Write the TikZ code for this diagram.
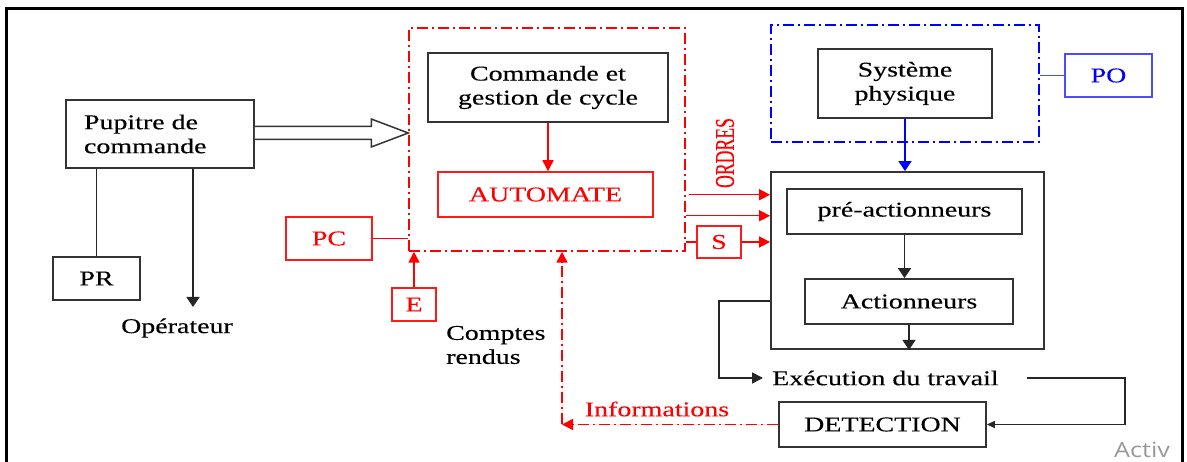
\documentclass[tikz,border=0pt]{standalone}
\usepackage{graphicx}
\usepackage{fontspec}
\setmainfont{Liberation Serif}[FakeStretch=1.33,FakeBold=0.3]
\newfontfamily\plainserif{Liberation Serif}[FakeBold=0.3]
\newfontfamily\wmsans{Open Sans}[FakeStretch=1.2]
\usetikzlibrary{arrows.meta,calc}
\begin{document}
\begin{tikzpicture}[x=1pt,y=-1pt,
  txt/.style={font=\fontsize{21}{24}\selectfont, inner sep=0pt},
  box/.style={txt, draw=black!80, line width=1.8pt, align=center},
  rbox/.style={box, draw=red!90, text=red, line width=1.5pt},
  bbox/.style={box, draw=blue!70, text=blue, line width=1.5pt},
  dashdotline/.style={dash pattern=on 11pt off 4pt on 2pt off 4pt},
  wire/.style={line width=1.6pt, draw=black!85},
  rwire/.style={line width=1.5pt, draw=red, fill=red},
  bigtip/.style={-{Triangle[length=10pt,width=13pt]}},
  midtip/.style={-{Triangle[length=11pt,width=11pt]}},
  smalltip/.style={-{Triangle[length=8pt,width=7pt]}},
]
\useasboundingbox (0,0) rectangle (1187,462);
\fill[white] (0,0) rectangle (1187,462);

% ---- operator desk ----
\node[box, minimum width=188, minimum height=68, text width=152, inner xsep=18pt, align=left] (pupitre) at (160,134) {Pupitre de\\commande};
\node[box, minimum width=87, minimum height=43] (pr) at (96.5,278.5) {PR};
\node[txt] (oper) at (177,328) {Opérateur};
\coordinate (operin) at (193,307);

% ---- control part ----
\node[draw=red, line width=1.5pt, dashdotline, minimum width=276, minimum height=223, inner sep=0pt] (pcbox) at (547,139.5) {};
\node[box, minimum width=240, minimum height=69] (cmd) at (548,87.5) {Commande et\\gestion de cycle};
\node[rbox, minimum width=215, minimum height=45] (auto) at (545.5,194.5) {AUTOMATE};
\node[rbox, minimum width=86, minimum height=43] (pc) at (329,238.5) {PC};
\node[rbox, minimum width=44, minimum height=33] (e) at (414,304.5) {E};
\node[rbox, minimum width=44, minimum height=32] (s) at (719,242) {S};
\node[txt, align=left, anchor=west] (cr) at (446,345) {Comptes\\rendus};
\node[txt, text=red] (info) at (657,409) {Informations};
\node[text=red, rotate=90, inner sep=0pt] (ordres) at (725,153) {\fontsize{17.7}{20}\plainserif\scalebox{1}[1.54]{ORDRES}};

% ---- operative part ----
\node[draw=blue, line width=1.5pt, dashdotline, minimum width=268, minimum height=117, inner sep=0pt] (pobox) at (905,83.5) {};
\node[box, minimum width=174, minimum height=69] (sys) at (905,83.5) {Système\\physique};
\node[bbox, minimum width=87, minimum height=43] (po) at (1108.5,75.5) {PO};

\node[draw=black!80, line width=1.8pt, minimum width=273, minimum height=177, inner sep=0pt] (op) at (907.5,260.5) {};
\node[box, minimum width=235, minimum height=45] (pre) at (904.5,211.5) {pré-actionneurs};
\node[box, minimum width=208, minimum height=45] (act) at (909,301.5) {Actionneurs};
\node[txt, anchor=west, inner xsep=9pt] (exec) at (763,378) {Exécution du travail};
\node[box, minimum width=207, minimum height=45] (det) at (882.5,424.5) {DETECTION};
\coordinate (infocorner) at (562,424.5);

% ---- hollow block arrow: desk to control part ----
\coordinate (bs) at ($(pupitre.east)+(0,-1)$);
\coordinate (bt) at ($(pupitre.east -| pcbox.west)+(0,-1)$);
\draw[line width=1.5pt, draw=black!80, fill=white]
  ($(bs)+(0,-6.5)$) -- ($(bt)+(-37,-6.5)$) -- ($(bt)+(-37,-14)$) -- (bt)
  -- ($(bt)+(-37,14)$) -- ($(bt)+(-37,6.5)$) -- ($(bs)+(0,6.5)$);

% ---- desk links ----
\draw[wire] (pupitre.south -| pr.north) -- (pr.north);
\draw[wire, bigtip] (pupitre.south -| operin) -- (operin);

% ---- control part links ----
\draw[rwire, midtip] (cmd.south) -- (cmd.south |- auto.north);
\draw[rwire] (pc.east) -- (pc.east -| pcbox.west);
\draw[rwire, midtip] (e.north) -- (e.north |- pcbox.south);
\draw[rwire, midtip] ($(pcbox.south east)+(3,-57)$) coordinate (o1) -- (o1 -| op.west);
\draw[rwire, midtip] ($(pcbox.south east)+(0,-36)$) coordinate (o2) -- (o2 -| op.west);
\draw[rwire] (s.west -| pcbox.east) -- (s.west);
\draw[rwire, midtip] (s.east) -- (s.east -| op.west);

% ---- feedback ----
\draw[rwire, dashdotline, midtip] (det.west) -- (infocorner);
\draw[rwire, dashdotline, midtip] (infocorner) -- (infocorner |- pcbox.south);

% ---- operative part links ----
\draw[line width=1.5pt, draw=blue, fill=blue, bigtip] (sys.south) -- (sys.south |- op.north);
\draw[line width=1.5pt, blue!70] (pobox.east |- po.west) -- (po.west);
\draw[wire, fill=black, bigtip] (pre.south) -- (pre.south |- act.north);
\draw[wire, fill=black, bigtip] (act.south) -- (act.south |- op.south);
\draw[wire, midtip] ($(op.west)+(0,40.5)$) -- ++(-51,0) |- (exec.west);
\draw[wire, smalltip] ($(exec.east)+(19,0)$) -- ++(98,0) |- (det.east);

% ---- watermark and frame ----
\node[anchor=west, text=black!40, inner sep=0pt, font=\wmsans\fontsize{21}{23}\selectfont] (wm) at (1114,450) {Activ};
\draw[line width=3pt] (6.5,470) -- (6.5,8.5) -- (1182,8.5) -- (1182,470);
\end{tikzpicture}
\end{document}
